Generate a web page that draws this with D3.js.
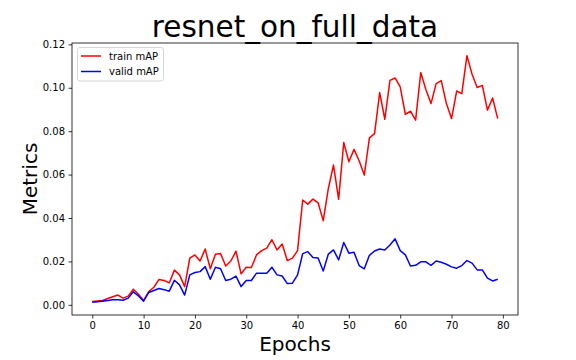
<!DOCTYPE html>
<html><head><meta charset="utf-8">
<script src="https://cdn.jsdelivr.net/npm/d3@7"></script>
<style>body{margin:0;background:#fff}svg{display:block}text{font-family:"DejaVu Sans",sans-serif}</style>
</head><body><svg id="c" width="576" height="360"></svg>
<script>
const epochs = d3.range(0, 80);
const trainMAP = [0.0015,0.0018,0.0020,0.0029,0.0037,0.0045,0.0031,0.0040,0.0072,0.0049,
0.0020,0.0061,0.0081,0.0117,0.0112,0.0101,0.0160,0.0138,0.0084,0.0215,
0.0230,0.0202,0.0257,0.0166,0.0233,0.0236,0.0179,0.0202,0.0247,0.0143,
0.0173,0.0172,0.0230,0.0250,0.0261,0.0300,0.0253,0.0280,0.0204,0.0215,
0.0250,0.0483,0.0464,0.0487,0.0470,0.0388,0.0536,0.0644,0.0486,0.0748,
0.0659,0.0716,0.0664,0.0598,0.0769,0.0789,0.0978,0.0855,0.1034,0.1045,
0.1004,0.0878,0.0892,0.0851,0.1070,0.0992,0.0927,0.1019,0.1033,0.0927,
0.0858,0.0985,0.0973,0.1148,0.1062,0.1001,0.1011,0.0897,0.0953,0.0858];
const validMAP = [0.0012,0.0014,0.0017,0.0020,0.0023,0.0023,0.0021,0.0031,0.0060,0.0041,
0.0017,0.0057,0.0066,0.0075,0.0070,0.0063,0.0113,0.0092,0.0045,0.0138,
0.0149,0.0153,0.0176,0.0118,0.0173,0.0166,0.0112,0.0118,0.0132,0.0084,
0.0112,0.0112,0.0146,0.0146,0.0146,0.0173,0.0138,0.0133,0.0098,0.0100,
0.0138,0.0236,0.0245,0.0218,0.0216,0.0156,0.0234,0.0253,0.0207,0.0287,
0.0238,0.0242,0.0181,0.0166,0.0228,0.0248,0.0257,0.0253,0.0276,0.0304,
0.0250,0.0230,0.0179,0.0182,0.0198,0.0198,0.0182,0.0202,0.0196,0.0187,
0.0175,0.0169,0.0181,0.0204,0.0192,0.0161,0.0161,0.0123,0.0110,0.0118];
const xTicks = [0,10,20,30,40,50,60,70,80];
const yTicks = [0.00,0.02,0.04,0.06,0.08,0.10,0.12];
const seriesNames = ["train mAP","valid mAP"];
const seriesColors = ["#ff0000","#0000ff"];

const svg = d3.select("#c");
const L=72, R=518, T=43, B=315;
const x = d3.scaleLinear().domain([-3.95, 82.95]).range([L, R]);
const y = d3.scaleLinear().domain([-0.00468, 0.12062]).range([B, T]);

const line = d3.line().x((d,i)=>x(epochs[i])).y(d=>y(d));
[trainMAP, validMAP].forEach((s,k)=>{
  svg.append("path").attr("d", line(s)).attr("fill","none")
    .attr("stroke", seriesColors[k]).attr("stroke-width",1.5).attr("stroke-linejoin","round");
});

const xa = svg.append("g").attr("transform",`translate(0,${B})`)
  .call(d3.axisBottom(x).tickValues(xTicks).tickFormat(d3.format("d")).tickSize(3.5).tickPadding(3.5));
const ya = svg.append("g").attr("transform",`translate(${L},0)`)
  .call(d3.axisLeft(y).tickValues(yTicks).tickFormat(d3.format(".2f")).tickSize(3.5).tickPadding(3.5));
[xa,ya].forEach(a=>{
  a.select(".domain").remove();
  a.selectAll("text").attr("font-size",10).attr("fill","#000").style("font-family","DejaVu Sans");
  a.selectAll("line").attr("stroke","#000").attr("stroke-width",0.8);
});
svg.append("rect").attr("x",L).attr("y",T).attr("width",R-L).attr("height",B-T)
  .attr("fill","none").attr("stroke","#000").attr("stroke-width",0.8);

svg.append("text").attr("x",(L+R)/2).attr("y",37).attr("text-anchor","middle")
  .attr("font-size",29.5).text("resnet_on_full_data");
svg.append("text").attr("x",(L+R)/2).attr("y",351).attr("text-anchor","middle")
  .attr("font-size",20).text("Epochs");
svg.append("text").attr("transform",`translate(37,${(T+B)/2}) rotate(-90)`).attr("text-anchor","middle")
  .attr("font-size",20).text("Metrics");

const lg = svg.append("g");
lg.append("rect").attr("x",77.5).attr("y",47.5).attr("width",86).attr("height",33.5).attr("rx",2.5)
  .attr("fill","#fff").attr("fill-opacity",0.8).attr("stroke","#cccccc").attr("stroke-width",0.8);
seriesNames.forEach((n,k)=>{
  const yy = 56 + k*15.5;
  lg.append("line").attr("x1",81).attr("x2",101).attr("y1",yy).attr("y2",yy)
    .attr("stroke",seriesColors[k]).attr("stroke-width",1.5);
  lg.append("text").attr("x",109).attr("y",yy+3.5).attr("font-size",10).text(n);
});
</script></body></html>
